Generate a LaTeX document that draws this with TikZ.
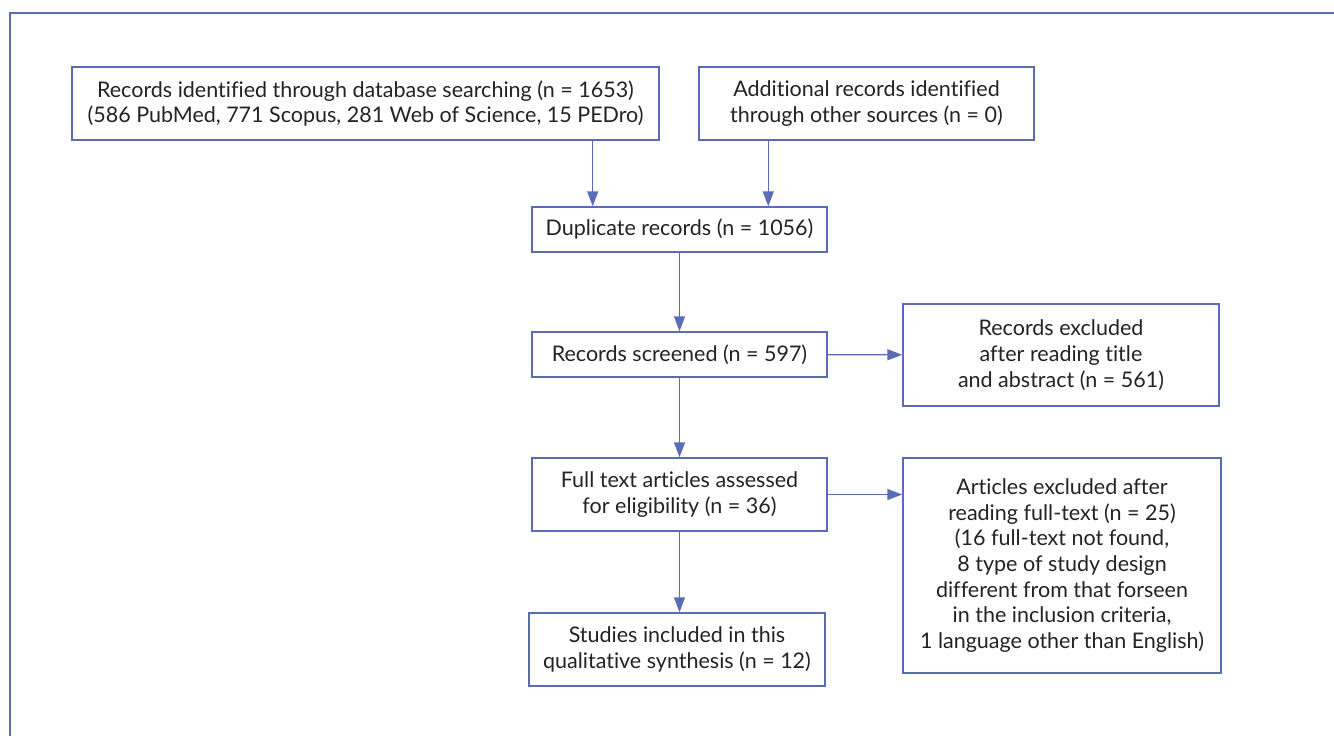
\documentclass[tikz,border=0pt]{standalone}
\usepackage{fontspec}
\setmainfont[Ligatures=NoCommon]{Lato}
\usetikzlibrary{arrows.meta}
\definecolor{prismablue}{RGB}{91,108,182}
\definecolor{prismatext}{RGB}{35,35,35}
\tikzset{
  box/.style={draw=prismablue, line width=1.4pt, text=prismatext, align=center,
    inner sep=0pt, font=\fontsize{21.5}{25.7}\selectfont},
}
\begin{document}
\begin{tikzpicture}[x=1pt,y=-1pt]
      \useasboundingbox (0,0) rectangle (1334,736);
      \draw[prismablue, line width=2.2pt] (1334,13) -- (10,13) -- (10,736);
      \draw
        (365.5,103.5) node[box, minimum width=587pt, minimum height=73pt] (0){Records identified through database searching (n = 1653)\\(586 PubMed, 771 Scopus, 281 Web of Science, 15 PEDro)}
        (866.5,103.5) node[box, minimum width=335pt, minimum height=73pt] (1){Additional records identified\\through other sources (n = 0)}
        (679.5,229.5) node[box, minimum width=295pt, minimum height=45pt] (2){Duplicate records (n = 1056)}
        (679.5,354.5) node[box, minimum width=295pt, minimum height=45pt] (3){Records screened (n = 597)}
        (1061,355) node[box, minimum width=316pt, minimum height=102pt] (4){Records excluded\\after reading title\\and abstract (n = 561)}
        (679.5,494.5) node[box, minimum width=295pt, minimum height=73pt] (5){Full text articles assessed\\for eligibility (n = 36)}
        (1062,565.5) node[box, minimum width=318pt, minimum height=215pt] (6){Articles excluded after\\reading full-text (n = 25)\\(16 full-text not found,\\8 type of study design\\different from that forseen\\in the inclusion criteria,\\1 language other than English)}
        (677,649.5) node[box, minimum width=296pt, minimum height=73pt] (7){Studies included in this\\qualitative synthesis (n = 12)};
      \begin{scope}[-{Triangle[length=15pt,width=11pt]}, color=prismablue, line width=1.4pt]
        \draw ([xshift=-67pt]0.south east) to ([xshift=-67pt]0.south east |- 2.north);
        \draw ([xshift=70pt]1.south west) to ([xshift=70pt]1.south west |- 2.north);
        \draw (2) to (3);
        \draw (3) to (4);
        \draw (3) to (5);
        \draw (5.east) to (5.east -| 6.west);
        \draw (5.south) to (5.south |- 7.north);
      \end{scope}
    \end{tikzpicture}
\end{document}
